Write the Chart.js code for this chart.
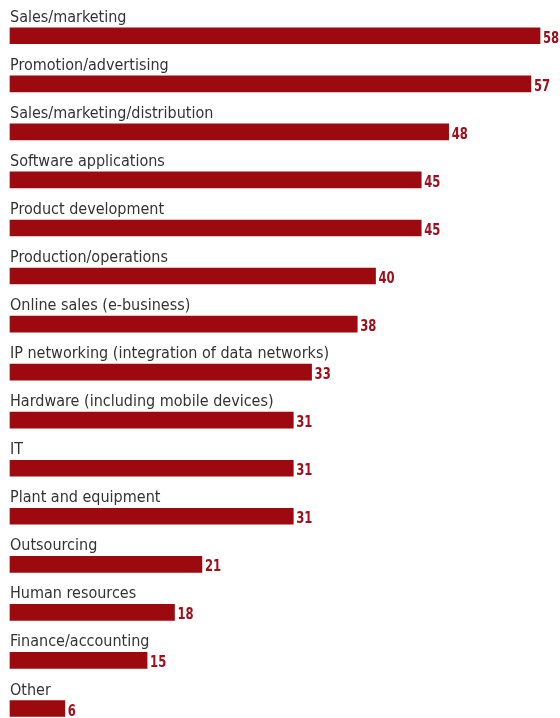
<!DOCTYPE html>
<html>
<head>
<meta charset="utf-8">
<script src="https://cdn.jsdelivr.net/npm/chart.js@4/dist/chart.umd.min.js"></script>
<style>
  html, body { margin: 0; padding: 0; background: #fff; }
  #wrap { width: 560px; height: 718px; position: relative; }
</style>
</head>
<body>
<div id="wrap"><canvas id="bars"></canvas></div>
<script>
const categories = [
  'Sales/marketing',
  'Promotion/advertising',
  'Sales/marketing/distribution',
  'Software applications',
  'Product development',
  'Production/operations',
  'Online sales (e-business)',
  'IP networking (integration of data networks)',
  'Hardware (including mobile devices)',
  'IT',
  'Plant and equipment',
  'Outsourcing',
  'Human resources',
  'Finance/accounting',
  'Other'
];
const values = [58, 57, 48, 45, 45, 40, 38, 33, 31, 31, 31, 21, 18, 15, 6];

const BAR = '#9c0a10';
const LABEL_FONT = '16px "DejaVu Sans Condensed", "DejaVu Sans", sans-serif';
const VALUE_FONT = 'bold 15px "DejaVu Sans Condensed", "DejaVu Sans", sans-serif';

// category name above each bar, value just past its end
const barText = {
  id: 'barText',
  afterDatasetsDraw(chart) {
    const ctx = chart.ctx;
    const meta = chart.getDatasetMeta(0);
    ctx.save();
    meta.data.forEach((bar, i) => {
      const y = bar.y;
      ctx.font = LABEL_FONT;
      ctx.fillStyle = '#333333';
      ctx.textAlign = 'left';
      ctx.textBaseline = 'alphabetic';
      ctx.fillText(categories[i], chart.chartArea.left, y - 14);
      // value digits are narrow, so squeeze them a little
      ctx.save();
      ctx.translate(bar.x + 3, y + 7);
      ctx.scale(0.86, 1);
      ctx.font = VALUE_FONT;
      ctx.fillStyle = '#a0101c';
      ctx.fillText(String(values[i]), 0, 0);
      ctx.restore();
    });
    ctx.restore();
  }
};

new Chart(document.getElementById('bars'), {
  type: 'bar',
  data: {
    labels: categories,
    datasets: [{
      data: values,
      backgroundColor: BAR,
      borderWidth: 0,
      barThickness: 16,
      clip: false
    }]
  },
  options: {
    indexAxis: 'y',
    responsive: true,
    maintainAspectRatio: false,
    animation: false,
    layout: { padding: { left: 10, right: 1.7, top: 35.75, bottom: 9.5 } },
    plugins: { legend: { display: false }, tooltip: { enabled: false } },
    scales: {
      x: { display: false, min: 0, max: 60 },
      y: { display: false, offset: false }
    }
  },
  plugins: [barText]
});
</script>
</body>
</html>
